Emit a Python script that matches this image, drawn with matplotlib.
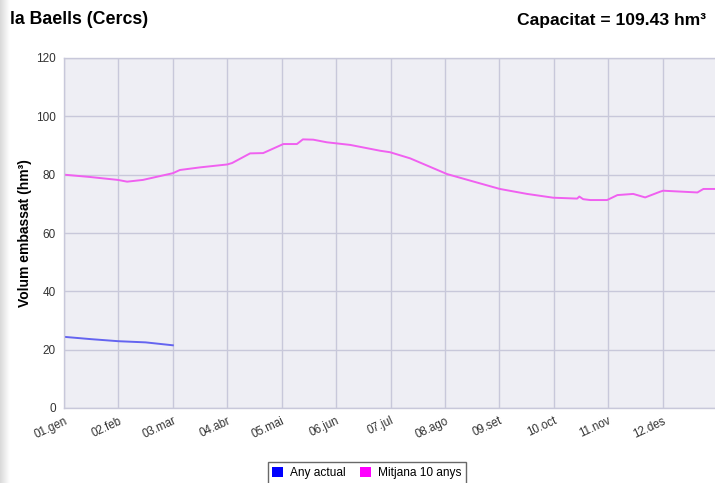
import matplotlib
matplotlib.use("Agg")
import matplotlib.pyplot as plt
import numpy as np
from matplotlib.patches import Patch

plt.rcParams['font.family'] = ['Liberation Sans', 'DejaVu Sans']

month_labels = ["01.gen", "02.feb", "03.mar", "04.abr", "05.mai", "06.jun",
                "07.jul", "08.ago", "09.set", "10.oct", "11.nov", "12.des"]

# Any actual (x in months from 1 January)
actual_month = [0.0, 0.5, 1.0, 1.5, 2.0]
actual_value = [24.4, 23.6, 22.9, 22.5, 21.5]

# Mitjana 10 anys
avg_month = [0.0, 0.48, 0.99, 1.16, 1.45, 1.76, 2.0, 2.13, 2.5, 3.0, 3.09, 3.42,
             3.66, 4.03, 4.28, 4.39, 4.58, 4.83, 5.26, 5.81, 5.99, 6.36, 7.04,
             7.59, 8.01, 8.51, 8.99, 9.43, 9.47, 9.54, 9.67, 9.98, 10.17, 10.46,
             10.68, 10.96, 11.01, 11.64, 11.75, 12.0]
avg_value = [80.0, 79.2, 78.2, 77.6, 78.2, 79.5, 80.5, 81.6, 82.5, 83.5, 84.0, 87.3,
             87.4, 90.5, 90.5, 92.1, 92.0, 91.1, 90.2, 88.2, 87.7, 85.6, 80.2,
             77.3, 75.1, 73.4, 72.1, 71.8, 72.5, 71.6, 71.3, 71.3, 73.0, 73.4,
             72.2, 74.2, 74.5, 73.9, 75.1, 75.1]

y_ticks = [0, 20, 40, 60, 80, 100, 120]

W, H = 715, 483
fig = plt.figure(figsize=(W / 100, H / 100), dpi=100)
fig.patch.set_facecolor("white")

# gray strip on the left edge
gax = fig.add_axes([0, 0, 10 / W, 1])
grad = np.linspace(0.85, 1.0, 50).reshape(1, -1)
gax.imshow(grad, aspect="auto", cmap="gray", vmin=0, vmax=1, extent=[0, 1, 0, 1])
gax.axis("off")

ax = fig.add_axes([64 / W, 1 - 408 / H, (717 - 64) / W, 350 / H])
ax.set_facecolor("#EEEEF4")
ax.set_xlim(0, 12)
ax.set_ylim(0, 120)

ax.set_xticks(range(12))
ax.set_xticklabels(month_labels, rotation=25, ha="right", va="top",
                   rotation_mode="anchor", fontsize=8.3, color="#333333")
ax.set_yticks(y_ticks)
ax.set_yticklabels([str(v) for v in y_ticks], fontsize=8.5, color="#333333")
ax.tick_params(length=0, pad=6)
ax.tick_params(axis="x", pad=5)

ax.grid(True, color="#C8C8DA", linewidth=1.0)
ax.set_axisbelow(True)
for s in ax.spines.values():
    s.set_color("#C8C8DA")
    s.set_linewidth(1.0)

ax.plot(avg_month, avg_value, color="#F060F0", linewidth=1.4)
ax.plot(actual_month, actual_value, color="#6464F0", linewidth=1.4)

ax.set_ylabel("Volum embassat (hm³)", fontsize=10, fontweight="bold", labelpad=3)

fig.text(10 / W, 1 - 20 / H, "la Baells (Cercs)", fontsize=12.8, fontweight="bold",
         ha="left", va="center")
fig.text(706 / W, 1 - 20 / H, "Capacitat = 109.43 hm³", fontsize=12.6, fontweight="bold",
         ha="right", va="center")

handles = [Patch(facecolor="#0000FF", edgecolor="none", label="Any actual"),
           Patch(facecolor="#FF00FF", edgecolor="none", label="Mitjana 10 anys")]
leg = fig.legend(handles=handles, loc="upper center", bbox_to_anchor=(367 / W, 1 - 462 / H),
                 ncol=2, fontsize=8.6, frameon=True, fancybox=False, handlelength=0.9,
                 handleheight=0.9, handletextpad=0.6, columnspacing=1.2,
                 borderpad=0.4, borderaxespad=0, edgecolor="#444444")
leg.get_frame().set_linewidth(1.0)

fig.savefig("out.png", dpi=100)
